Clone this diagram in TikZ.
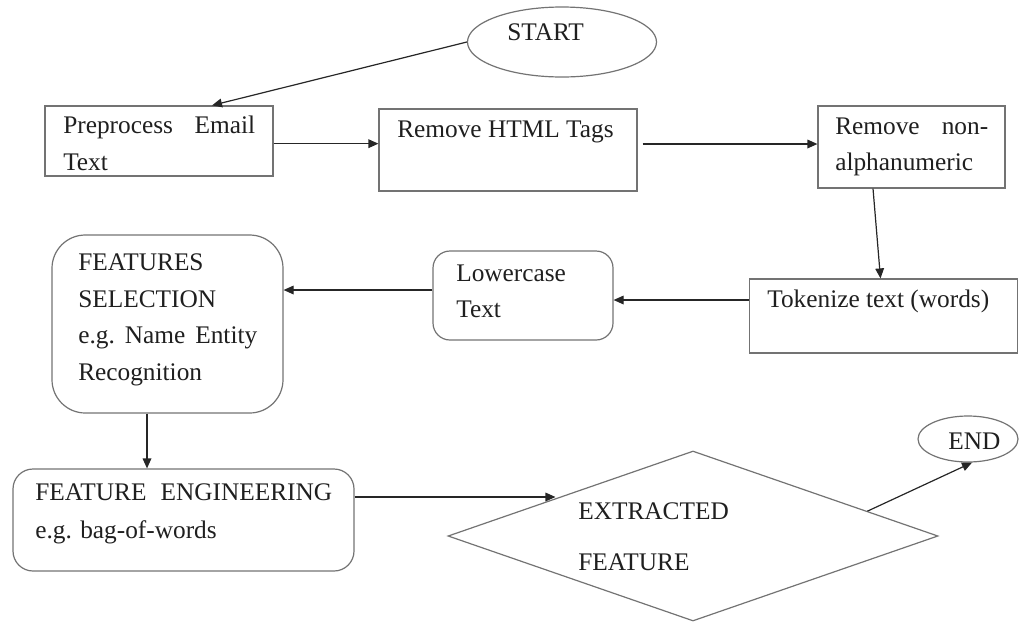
\documentclass[tikz,border=0pt]{standalone}
\usepackage{fontspec}
\setmainfont{Liberation Serif}
\usetikzlibrary{shapes.geometric,arrows.meta,calc}
\frenchspacing
\begin{document}
\begin{tikzpicture}[x=0.75pt,y=-0.75pt,
  shapebox/.style={draw=black!55,line width=0.9pt,inner sep=0pt},
  rbox/.style={shapebox,rounded corners=#1},
  txt/.style={anchor=west,inner sep=0pt,text=black!88,align=left,font=\fontsize{19}{#1}\selectfont},
  conn/.style={draw=black!85,line width=0.9pt,-{Triangle[length=7.5pt,width=6.5pt]}}]
\useasboundingbox (0,0) rectangle (1020,622);

% shapes
\node[shapebox,minimum width=171pt,minimum height=52.5pt] (pre) at (159,141) {};
\node[shapebox,minimum width=193.5pt,minimum height=61.5pt] (html) at (508,150) {};
\node[shapebox,minimum width=140.25pt,minimum height=61.5pt] (alnum) at (911.5,147) {};
\node[shapebox,minimum width=201pt,minimum height=55.5pt] (tok) at (883.5,316) {};
\node[rbox=12.75pt,minimum width=135pt,minimum height=66.75pt] (low) at (523,295.5) {};
\node[rbox=25pt,minimum width=173.25pt,minimum height=133.5pt] (feat) at (167.5,324) {};
\node[rbox=15pt,minimum width=255.75pt,minimum height=76.5pt] (fe) at (183.5,520) {};
\node[shapebox,diamond,minimum width=367.5pt,minimum height=127.5pt] (ext) at (693,536) {};
\node[shapebox,ellipse,minimum width=141.75pt,minimum height=52.5pt] (start) at (562,42) {};
\node[shapebox,ellipse,minimum width=75pt,minimum height=34.5pt] (end) at (968,439) {};

% texts
\node[txt=27.75pt] (start-t) at (507,33) {START\strut};
\node[txt=27.75pt,text width=144pt] (pre-t) at (63,144.5) {Preprocess\hfill Email\strut\\Text\strut};
\node[txt=27.75pt] (html-t) at (397,130) {Remove HTML Tags\strut};
\node[txt=27pt,text width=114.75pt] (alnum-t) at (835,145) {Remove\hfill non-\strut\\alphanumeric\strut};
\node[txt=27.75pt] (tok-t) at (767,300) {Tokenize text (words)\strut};
\node[txt=27pt] (low-t) at (456,292) {Lowercase\strut\\Text\strut};
\node[txt=27.5pt,text width=134.25pt] (feat-t) at (78,318) {FEATURES\strut\\SELECTION\strut\\e.g.\hfill Name\hfill Entity\strut\\Recognition\strut};
\node[txt=28.5pt,text width=222.75pt] (fe-t) at (35,512) {FEATURE\hfill ENGINEERING\strut\\e.g.\ bag-of-words\strut};
\node[txt=38.25pt] (ext-t) at (578,534.5) {EXTRACTED\strut\\FEATURE\strut};
\node[txt=27.75pt] (end-t) at (948,442) {END\strut};

% connectors
\coordinate (extin) at ($(ext.west)!0.44!(ext.north)$);
\coordinate (extout) at ($(ext.north)!0.71!(ext.east)$);
\draw[conn] (start.west) -- ([xshift=39.75pt]pre.north);
\draw[conn] ([yshift=-2pt]pre.east) -- ([yshift=-2pt]pre.east -| html.west);
\draw[conn,shorten <=3.75pt] ([yshift=4.5pt]html.east) -- ([yshift=4.5pt]html.east -| alnum.west);
\draw[conn] ([xshift=-28.875pt]alnum.south) -- ([xshift=-2.25pt]tok.north);
\draw[conn] ([yshift=12pt]tok.west) -- ([yshift=12pt]tok.west -| low.east);
\draw[conn] ([yshift=4.125pt]low.west) -- ([yshift=4.125pt]low.west -| feat.east);
\draw[conn] ([xshift=-15.375pt]feat.south) -- ([xshift=-15.375pt]feat.south |- fe.north);
\draw[conn] ([yshift=17.25pt]fe.east) -- ([yshift=17.25pt]fe.east -| extin);
\draw[conn] (extout) -- ([xshift=3pt]end.south);
\end{tikzpicture}
\end{document}
